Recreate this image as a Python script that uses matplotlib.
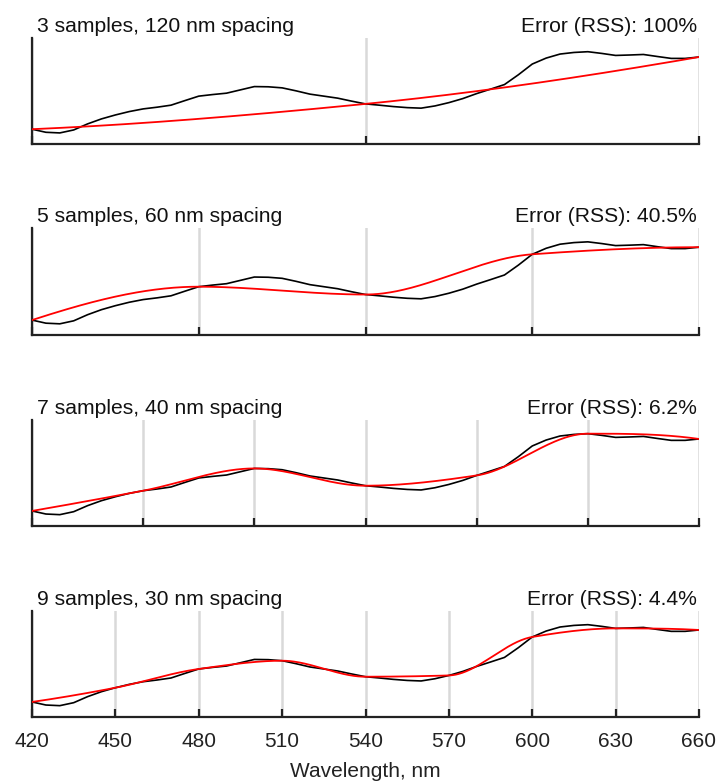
import numpy as np
import matplotlib
matplotlib.use("Agg")
import matplotlib.pyplot as plt

plt.rcParams['font.family'] = ['Liberation Sans', 'DejaVu Sans']

# measured spectrum, 5 nm steps (relative units)
wavelength = np.arange(420, 661, 5)
spectrum = [0.142, 0.113, 0.107, 0.135, 0.192, 0.239, 0.276, 0.308, 0.333, 0.349,
            0.368, 0.411, 0.453, 0.468, 0.481, 0.512, 0.543, 0.541, 0.531, 0.503,
            0.472, 0.453, 0.434, 0.406, 0.380, 0.368, 0.355, 0.345, 0.340, 0.361,
            0.392, 0.430, 0.477, 0.519, 0.562, 0.654, 0.755, 0.811, 0.849, 0.864,
            0.871, 0.855, 0.836, 0.840, 0.845, 0.826, 0.808, 0.808, 0.821]

sample_counts = [3, 5, 7, 9]
spacings = [120, 60, 40, 30]
errors = ["100%", "40.5%", "6.2%", "4.4%"]
xticks = [420, 450, 480, 510, 540, 570, 600, 630, 660]


def _end_slope(h0, h1, d0, d1):
    s = ((2 * h0 + h1) * d0 - h0 * d1) / (h0 + h1)
    if np.sign(s) != np.sign(d0):
        s = 0.0
    elif np.sign(d0) != np.sign(d1) and abs(s) > abs(3 * d0):
        s = 3 * d0
    return s


def pchip(xs, ys, xq):
    # monotone piecewise cubic (Fritsch-Carlson)
    xs = np.asarray(xs, float)
    ys = np.asarray(ys, float)
    n = len(xs)
    h = np.diff(xs)
    delta = np.diff(ys) / h
    d = np.zeros(n)
    for k in range(1, n - 1):
        if delta[k - 1] * delta[k] > 0:
            w1 = 2 * h[k] + h[k - 1]
            w2 = h[k] + 2 * h[k - 1]
            d[k] = (w1 + w2) / (w1 / delta[k - 1] + w2 / delta[k])
    d[0] = _end_slope(h[0], h[1], delta[0], delta[1])
    d[-1] = _end_slope(h[-1], h[-2], delta[-1], delta[-2])
    idx = np.clip(np.searchsorted(xs, xq) - 1, 0, n - 2)
    hh = h[idx]
    t = (xq - xs[idx]) / hh
    h00 = 2 * t**3 - 3 * t**2 + 1
    h10 = t**3 - 2 * t**2 + t
    h01 = -2 * t**3 + 3 * t**2
    h11 = t**3 - t**2
    return (h00 * ys[idx] + h10 * hh * d[idx]
            + h01 * ys[idx + 1] + h11 * hh * d[idx + 1])


fig = plt.figure(figsize=(7.18, 7.83), dpi=100)
tops = [38, 228, 420, 611]
bottoms = [144.3, 335.3, 526, 717]
spec = np.array(spectrum)
xfine = np.linspace(420, 660, 500)

for k in range(4):
    ax = fig.add_axes([32 / 718, 1 - bottoms[k] / 783, 667 / 718,
                       (bottoms[k] - tops[k]) / 783])
    xs = np.linspace(420, 660, sample_counts[k])
    ys = np.interp(xs, wavelength, spec)
    for x in xs:
        ax.axvline(x, color='#d9d9d9', lw=1.8, zorder=0)
    ax.plot(wavelength, spec, color='black', lw=1.2, zorder=2)
    ax.plot(xfine, pchip(xs, ys, xfine), color='#ff0000', lw=1.3, zorder=3)
    ax.set_xlim(420, 660)
    ax.set_ylim(0, 1)
    ax.set_yticks([])
    for s in ['top', 'right']:
        ax.spines[s].set_visible(False)
    for s in ['left', 'bottom']:
        ax.spines[s].set_linewidth(1.6)
        ax.spines[s].set_color('#222222')
    ax.tick_params(axis='x', direction='in', length=6, width=1.6, color='#222222',
                   labelsize=15, pad=11, labelcolor='#222222')
    if k == 3:
        ax.set_xticks(xticks)
        ax.set_xlabel("Wavelength, nm", fontsize=15, color='#222222', labelpad=8)
    else:
        ax.set_xticks(xs)
        ax.set_xticklabels([])
    ax.set_title(f"{sample_counts[k]} samples, {spacings[k]} nm spacing",
                 loc='left', fontsize=15.2, pad=4, x=0.008, color='#111111')
    ax.set_title(f"Error (RSS): {errors[k]}", loc='right', fontsize=15.2, pad=4,
                 x=0.997, color='#111111')

fig.savefig("out.png", dpi=100)
